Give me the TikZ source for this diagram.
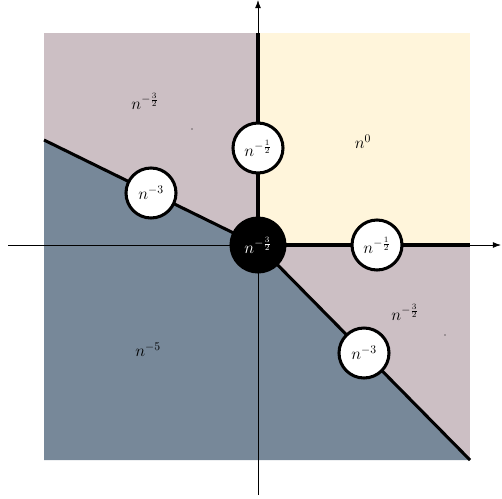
\documentclass[tikz,border=0pt]{standalone}
\usetikzlibrary{arrows.meta}
\definecolor{mauve}{HTML}{CCBFC4}
\definecolor{cream}{HTML}{FFF5DB}
\definecolor{slate}{HTML}{778899}
\begin{document}
\begin{tikzpicture}[x=0.03cm,y=-0.03cm,
  thickline/.style={line width=2.6pt},
  axisline/.style={line width=0.6pt,-{Latex[length=7pt,width=5pt]}},
  ball/.style={circle,draw,line width=2.6pt,fill=white,minimum size=50*0.03cm,inner sep=0pt,font=\Large},
  blackball/.style={circle,draw,line width=2.6pt,fill=black,text=white,minimum size=54*0.03cm,inner sep=0pt,font=\Large},
  lbl/.style={font=\Large}]
\useasboundingbox (0,0) rectangle (502,498);
\fill[mauve] (44,33) rectangle (470,460);
\fill[cream] (258,33) rectangle (470,245);
\fill[slate] (44,140) -- (258,245) -- (470,460) -- (44,460) -- cycle;
\coordinate (O) at (258,245);
\coordinate (L) at (44,140);
\coordinate (T) at (258,33);
\coordinate (R) at (470,245);
\coordinate (D) at (470,460);
\coordinate (xa) at (8,245);
\coordinate (xb) at (501,245);
\coordinate (ya) at (258,495);
\coordinate (yb) at (258,0);
\draw[axisline] (xa) -- (xb);
\draw[axisline] (ya) -- (yb);
\draw[thickline] (O) -- (L);
\draw[thickline] (O) -- (T);
\draw[thickline] (O) -- (R);
\draw[thickline] (O) -- (D);
\node[ball] (up) at (258,148) {$n^{-\frac{1}{2}}$};
\node[ball] (right) at (377,245) {$n^{-\frac{1}{2}}$};
\node[ball] (left) at (151,193) {$n^{-3}$};
\node[ball] (down) at (364,353) {$n^{-3}$};
\node[blackball] (center) at (O) {$n^{-\frac{3}{2}}$};
\node[lbl] (a) at (145,101) {$n^{-\frac{3}{2}}$};
\node[lbl] (b) at (363,142) {$n^{0}$};
\node[lbl] (c) at (405,312) {$n^{-\frac{3}{2}}$};
\node[lbl] (d) at (148,350) {$n^{-5}$};
\fill (192,129) circle (0.7);
\fill (445,335) circle (0.7);
\end{tikzpicture}
\end{document}
